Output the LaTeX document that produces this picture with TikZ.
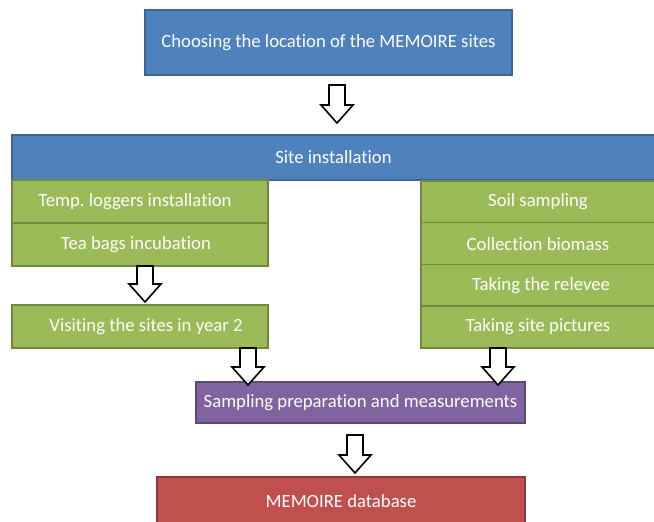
\documentclass[tikz,border=0pt]{standalone}
\usepackage{fontspec}
\setmainfont{Carlito}[Ligatures=NoCommon]
\definecolor{bfill}{HTML}{4F81BD}
\definecolor{bline}{HTML}{3A6594}
\definecolor{gfill}{HTML}{9BBB59}
\definecolor{gline}{HTML}{71893F}
\definecolor{pfill}{HTML}{8064A2}
\definecolor{pline}{HTML}{5C4776}
\definecolor{rfill}{HTML}{C0504D}
\definecolor{rline}{HTML}{8C3836}
\tikzset{
  box/.style={draw, line width=1.5pt, rectangle, inner sep=0pt, text=white,
    font=\fontsize{18.7}{22}\selectfont},
  bluebox/.style={box, fill=bfill, draw=bline},
  greenbox/.style={box, fill=gfill, draw=gline},
  purplebox/.style={box, fill=pfill, draw=pline},
  redbox/.style={box, fill=rfill, draw=rline},
  blockarr/.style={draw=black, fill=white, line width=1.6pt, line join=miter}
}
\newcommand{\barrow}[2]{%
  \draw[blockarr] (#1) ++(-8,0) -- ++(0,{#2-18}) -- ++(-8,0) -- ++(16,18)
    -- ++(16,-18) -- ++(-8,0) -- ++(0,{18-#2}) -- cycle;}
\begin{document}
\begin{tikzpicture}[x=1pt,y=-1pt]
\useasboundingbox (0,0) rectangle (654,522);
\fill[white] (0,0) rectangle (654,522);
\node[bluebox, minimum width=367pt, minimum height=65pt] (top) at (328.5,42.5)
  {Choosing the location of the MEMOIRE sites};
\node[bluebox, minimum width=643pt, minimum height=45pt] (site) at (333.5,157.5)
  {Site installation};
\node[greenbox, minimum width=256pt, minimum height=43pt] (temp) at (140,201.5)
  {Temp.\ loggers installation\hspace*{10pt}};
\node[greenbox, minimum width=256pt, minimum height=43pt] (tea) at (140,244.5)
  {Tea bags incubation\hspace*{8pt}};
\node[greenbox, minimum width=256pt, minimum height=43pt] (visit) at (140,326.5)
  {\hspace*{12pt}Visiting the sites in year 2};
\node[greenbox, minimum width=234pt, minimum height=41.75pt] (soil) at (538,201.9)
  {Soil sampling};
\node[greenbox, minimum width=234pt, minimum height=41.75pt] (coll) at (538,243.6)
  {Collection biomass};
\node[greenbox, minimum width=234pt, minimum height=41.75pt] (rel) at (538,285.4)
  {\hspace*{6pt}Taking the relevee};
\node[greenbox, minimum width=234pt, minimum height=41.75pt] (pic) at (538,327.1)
  {Taking site pictures};
\node[purplebox, minimum width=329pt, minimum height=41pt] (samp) at (360.5,402.5)
  {Sampling preparation and measurements};
\node[redbox, minimum width=368pt, minimum height=48pt] (db) at (341,501)
  {MEMOIRE database};
\coordinate (a1) at (337,85);
\coordinate (a2) at (145,266);
\coordinate (a3) at (248,348);
\coordinate (a4) at (498,348);
\coordinate (a5) at (355,435);
\barrow{a1}{38}
\barrow{a2}{36}
\barrow{a3}{37}
\barrow{a4}{37}
\barrow{a5}{38}
\end{tikzpicture}
\end{document}
